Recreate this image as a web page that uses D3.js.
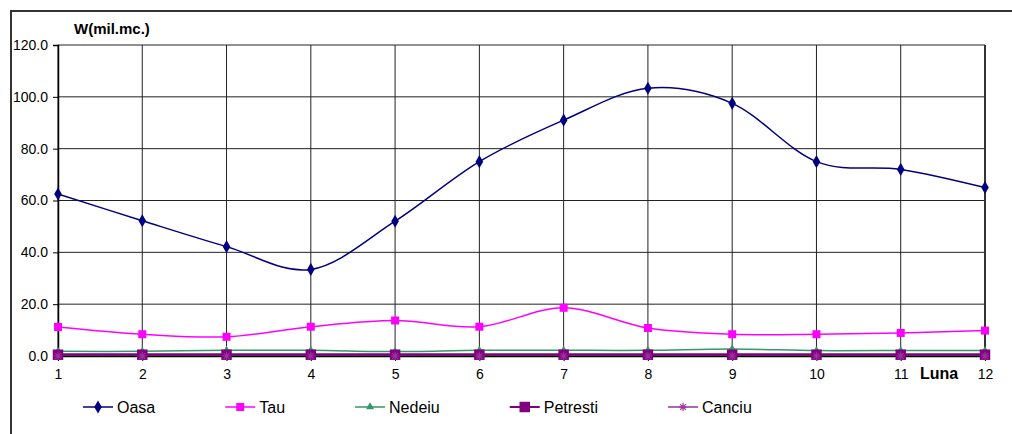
<!DOCTYPE html>
<html>
<head>
<meta charset="utf-8">
<script src="https://cdn.jsdelivr.net/npm/d3@7"></script>
<style>
  html, body { margin: 0; padding: 0; background: #fff; }
  svg { display: block; font-family: "Liberation Sans", Arial, sans-serif; }
</style>
</head>
<body>
<svg id="chart" width="1012" height="434"></svg>
<script>
const months = [1, 2, 3, 4, 5, 6, 7, 8, 9, 10, 11, 12];
const oasa     = [62.5, 52.2, 42.2, 33.4, 52.0, 75.0, 91.0, 103.3, 97.5, 75.0, 72.0, 65.0];
const tau      = [11.2, 8.4, 7.4, 11.3, 13.7, 11.3, 18.6, 10.8, 8.4, 8.4, 8.9, 9.8];
const nedeiu   = [1.8, 1.8, 2.2, 2.2, 1.7, 2.2, 2.2, 2.2, 2.7, 2.1, 2.1, 2.1];
const petresti = [0.5, 0.5, 0.5, 0.5, 0.5, 0.5, 0.5, 0.5, 0.5, 0.5, 0.5, 0.5];
const canciu   = [0, 0, 0, 0, 0, 0, 0, 0, 0, 0, 0, 0];
const yTicks = [0, 20, 40, 60, 80, 100, 120];
const seriesNames = ["Oasa", "Tau", "Nedeiu", "Petresti", "Canciu"];
const yTitle = "W(mil.mc.)";
const xTitle = "Luna";

(function () {
const series = [
  { name: seriesNames[0], values: oasa,     color: "#000080", width: 1.5, marker: "diamond",  size: 50 },
  { name: seriesNames[1], values: tau,      color: "#FF00FF", width: 1.5, marker: "square",   size: 64 },
  { name: seriesNames[2], values: nedeiu,   color: "#339966", width: 1.5, marker: "triangle", size: 28 },
  { name: seriesNames[3], values: petresti, color: "#800080", width: 3,   marker: "square",   size: 110 },
  { name: seriesNames[4], values: canciu,   color: "#993399", width: 1.5, marker: "asterisk", size: 40 }
];

const svg = d3.select("#chart");
const pLeft = 58, pRight = 985, pTop = 45, pBottom = 356;

const x = d3.scaleLinear().domain([1, 12]).range([pLeft, pRight]);
const y = d3.scaleLinear().domain([0, 120]).range([pBottom, pTop]);

// outer frame
svg.append("path").attr("d", `M11,434 L11,11 L1012,11`).attr("fill", "none")
  .attr("stroke", "#333").attr("stroke-width", 2);

// gridlines
const grid = svg.append("g");
grid.selectAll("line.h").data(yTicks).join("line")
  .attr("x1", pLeft).attr("x2", pRight)
  .attr("y1", d => y(d)).attr("y2", d => y(d))
  .attr("stroke", "#222").attr("stroke-width", 1);
grid.selectAll("line.v").data(months).join("line")
  .attr("x1", d => x(d)).attr("x2", d => x(d))
  .attr("y1", pTop).attr("y2", pBottom)
  .attr("stroke", "#222").attr("stroke-width", 1);
svg.append("line").attr("x1", pRight).attr("x2", pRight).attr("y1", pTop).attr("y2", pBottom)
  .attr("stroke", "#333").attr("stroke-width", 2);

// Y axis
const yAxis = d3.axisLeft(y).tickValues(yTicks).tickFormat(d3.format(".1f")).tickSize(5).tickPadding(5);
const gy = svg.append("g").attr("transform", `translate(${pLeft},0)`).call(yAxis);
gy.select(".domain").attr("stroke", "#000").attr("stroke-width", 1.5);
gy.selectAll(".tick line").attr("stroke", "#000");
gy.selectAll(".tick text").attr("font-size", 14).attr("fill", "#000")
  .attr("font-family", "Liberation Sans, Arial, sans-serif");

// X axis labels
const xAxis = d3.axisBottom(x).tickValues(months).tickFormat(d3.format("d")).tickSize(5).tickPadding(8);
const gx = svg.append("g").attr("transform", `translate(0,${pBottom})`).call(xAxis);
gx.select(".domain").remove();
gx.selectAll(".tick line").attr("stroke", "#000");
gx.selectAll(".tick text").attr("font-size", 14).attr("fill", "#000")
  .attr("font-family", "Liberation Sans, Arial, sans-serif");

// series
const line = d3.line().x((d, i) => x(months[i])).y(d => y(d)).curve(d3.curveCatmullRom.alpha(0));

function markerPath(type, size) {
  if (type === "diamond") return d3.symbol(d3.symbolDiamond, size)();
  if (type === "square") return d3.symbol(d3.symbolSquare, size)();
  if (type === "triangle") return d3.symbol(d3.symbolTriangle, size)();
  const r = Math.sqrt(size) / 2 + 1;
  const a = r * 0.7;
  return `M${-r},0L${r},0M${-a},${-a}L${a},${a}M${-a},${a}L${a},${-a}M0,${-r}L0,${r}`;
}

const gs = svg.append("g");
series.forEach(s => {
  gs.append("path").datum(s.values).attr("d", line)
    .attr("fill", "none").attr("stroke", s.color).attr("stroke-width", s.width);
});
svg.append("line").attr("x1", pLeft).attr("x2", pRight).attr("y1", pBottom + 0.5).attr("y2", pBottom + 0.5)
  .attr("stroke", "#000").attr("stroke-width", 1.5);
const gm = svg.append("g");
series.forEach(s => {
  gm.append("g").selectAll("path").data(s.values).join("path")
    .attr("transform", (d, i) => `translate(${x(months[i])},${y(d)})`)
    .attr("d", markerPath(s.marker, s.size))
    .attr("fill", s.marker === "asterisk" ? "none" : s.color)
    .attr("stroke", s.color).attr("stroke-width", s.marker === "asterisk" ? 1.2 : 0);
});

// titles
svg.append("text").attr("x", 74).attr("y", 34).attr("font-size", 15).attr("font-weight", "bold")
  .attr("fill", "#000").text(yTitle);
svg.append("text").attr("x", 920).attr("y", 379).attr("font-size", 16).attr("font-weight", "bold")
  .attr("fill", "#000").text(xTitle);

// legend
const legY = 407;
let lx = 83;
series.forEach(s => {
  const g = svg.append("g");
  g.append("line").attr("x1", lx).attr("x2", lx + 30).attr("y1", legY).attr("y2", legY)
    .attr("stroke", s.color).attr("stroke-width", s.name === "Petresti" ? 2 : 1.5);
  g.append("path").attr("transform", `translate(${lx + 15},${legY})`)
    .attr("d", markerPath(s.marker, s.size))
    .attr("fill", s.marker === "asterisk" ? "none" : s.color)
    .attr("stroke", s.color).attr("stroke-width", s.marker === "asterisk" ? 1.2 : 0);
  const t = g.append("text").attr("x", lx + 34).attr("y", legY + 6).attr("font-size", 16)
    .attr("fill", "#000").text(s.name);
  lx += 34 + t.node().getComputedTextLength() + 70;
});
})();
</script>
</body>
</html>
